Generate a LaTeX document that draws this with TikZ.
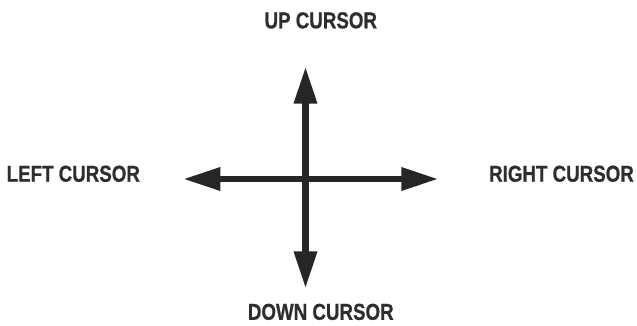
\documentclass[tikz,border=0pt]{standalone}
\usepackage{fontspec}
\newfontfamily\lblfont[FakeStretch=0.815,FakeBold=0.8]{Liberation Sans Bold}
\usetikzlibrary{arrows.meta}
\definecolor{ink}{HTML}{262626}
\definecolor{txt}{HTML}{2E2E2E}
\begin{document}
\begin{tikzpicture}[x=1pt,y=-1pt,
  lbl/.style={font=\lblfont\fontsize{23}{24}\selectfont, text=txt, anchor=base, inner sep=0pt},
  cursorarrow/.style={draw=ink, line width=6.5pt,
    {Triangle[length=37pt,width=22pt]}-{Triangle[length=37pt,width=22pt]}}]
\useasboundingbox (0,0) rectangle (637,325);
\coordinate (top) at (305.5,66.7);
\coordinate (bottom) at (305.5,288.3);
\coordinate (left) at (183.3,179);
\coordinate (right) at (438.3,179);
\draw[cursorarrow] (top) -- (bottom);
\draw[cursorarrow] (left) -- (right);
\node[lbl] (up) at (320.8,28.3) {UP CURSOR};
\node[lbl] (lt) at (73.3,181.7) {LEFT CURSOR};
\node[lbl] (rt) at (561.5,181.7) {RIGHT CURSOR};
\node[lbl] (dn) at (320.8,319.8) {DOWN CURSOR};
\end{tikzpicture}
\end{document}
